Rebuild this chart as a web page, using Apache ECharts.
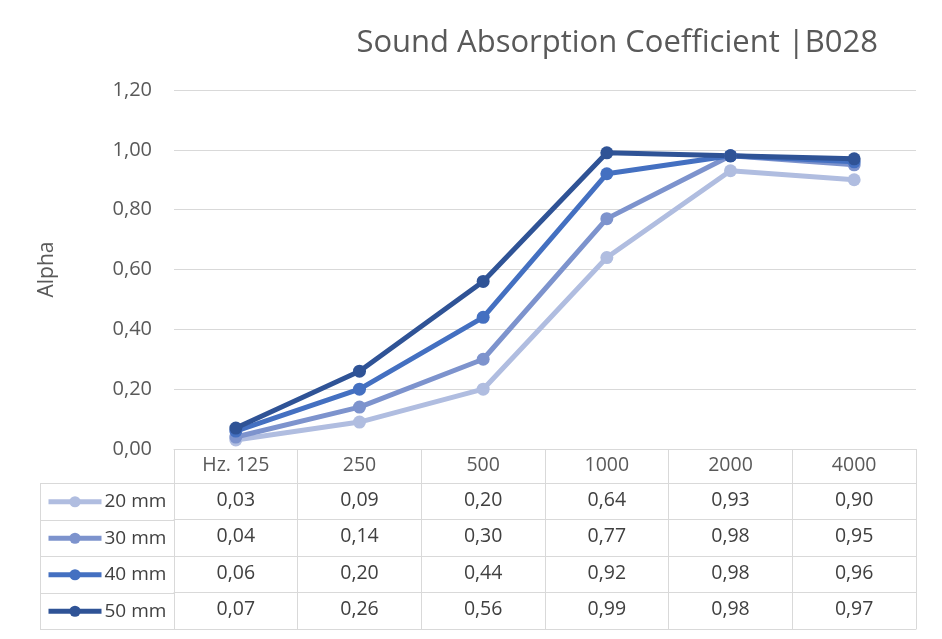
<!DOCTYPE html>
<html>
<head>
<meta charset="utf-8">
<script src="https://cdn.jsdelivr.net/npm/echarts@6/dist/echarts.min.js"></script>
<style>html,body{margin:0;padding:0;background:#fff;}#c{width:942px;height:639px;}</style>
</head>
<body>
<div id="c"></div>
<script>
var categories = ['Hz. 125', '250', '500', '1000', '2000', '4000'];
var seriesNames = ['20 mm', '30 mm', '40 mm', '50 mm'];
var s20 = [0.03, 0.09, 0.20, 0.64, 0.93, 0.90];
var s30 = [0.04, 0.14, 0.30, 0.77, 0.98, 0.95];
var s40 = [0.06, 0.20, 0.44, 0.92, 0.98, 0.96];
var s50 = [0.07, 0.26, 0.56, 0.99, 0.98, 0.97];
var yTicks = [0, 0.2, 0.4, 0.6, 0.8, 1.0, 1.2];

var values = [s20, s30, s40, s50];
var colors = ['#b0bde0', '#7d93cd', '#4470c1', '#2f5396'];
var fontFam = '"Open Sans", "Noto Sans", sans-serif';
var gridLeft = 174, gridRight = 916, gridTop = 90, gridBottom = 449;
var headerH = 34, rowH = 36.5, tableLeft = 40;
var lineCol = '#d9d9d9';
var tFont = 19.5;
function fmt(v) { return v.toFixed(2).replace('.', ','); }

var xAxes = [{
  type: 'category', data: categories, gridIndex: 0, position: 'bottom',
  boundaryGap: true,
  axisLine: { show: true, lineStyle: { color: lineCol, width: 1 } },
  axisTick: { show: true, length: headerH + rowH * 4, lineStyle: { color: lineCol, width: 1 } },
  axisLabel: { color: '#595959', fontSize: tFont, fontFamily: fontFam, margin: 6 },
  splitLine: { show: false }
}];
values.forEach(function (arr, k) {
  xAxes.push({
    type: 'category', data: categories, gridIndex: 0, position: 'bottom',
    offset: headerH + rowH * k,
    axisLine: { show: true, lineStyle: { color: lineCol, width: 1 } },
    axisTick: { show: false },
    axisLabel: {
      color: '#404040', fontSize: tFont, fontFamily: fontFam, margin: 7,
      formatter: function (val, idx) { return fmt(arr[idx]); }
    }
  });
});
xAxes.push({
  type: 'category', data: categories, gridIndex: 0, position: 'bottom',
  offset: headerH + rowH * 4,
  axisLine: { show: true, lineStyle: { color: lineCol, width: 1 } },
  axisTick: { show: false }, axisLabel: { show: false }
});

var series = values.map(function (arr, k) {
  return {
    name: seriesNames[k], type: 'line', data: arr, xAxisIndex: 0,
    symbol: 'circle', symbolSize: 13,
    lineStyle: { width: 5, color: colors[k] },
    itemStyle: { color: colors[k] },
    emphasis: { disabled: true }
  };
});

var legends = seriesNames.map(function (nm, k) {
  return {
    data: [nm], orient: 'horizontal', left: 46, padding: 0,
    top: gridBottom + headerH + rowH * k + (rowH - 14) / 2 - 2,
    itemWidth: 53, itemHeight: 14, itemGap: 0,
    lineStyle: { width: 5 },
    textStyle: { color: '#404040', fontSize: 19, fontFamily: fontFam, lineHeight: 14, padding: [0, 0, 0, -2] },
    selectedMode: false
  };
});

var graphics = [];
var tableBottom = gridBottom + headerH + rowH * 4;
for (var r = 0; r <= 4; r++) {
  var yy = Math.round(gridBottom + headerH + rowH * r) + 0.5;
  graphics.push({ type: 'line', shape: { x1: tableLeft, y1: yy, x2: gridLeft, y2: yy }, style: { stroke: lineCol, lineWidth: 1 } });
}
graphics.push({ type: 'line', shape: { x1: tableLeft + 0.5, y1: gridBottom + headerH, x2: tableLeft + 0.5, y2: tableBottom }, style: { stroke: lineCol, lineWidth: 1 } });

var option = {
  animation: false,
  backgroundColor: '#ffffff',
  title: {
    text: 'Sound Absorption Coefficient |B028', right: 59, top: 23,
    textStyle: { color: '#595959', fontSize: 31, fontWeight: 'normal', fontFamily: fontFam }
  },
  legend: legends,
  grid: { left: gridLeft, right: 942 - gridRight, top: gridTop, bottom: 639 - gridBottom, containLabel: false },
  xAxis: xAxes,
  yAxis: {
    type: 'value', min: 0, max: 1.2, interval: 0.2,
    name: 'Alpha', nameLocation: 'middle', nameGap: 116, nameRotate: 90,
    nameTextStyle: { color: '#595959', fontSize: 21, fontFamily: fontFam },
    axisLine: { show: false }, axisTick: { show: false },
    axisLabel: { color: '#595959', fontSize: 20, fontFamily: fontFam, margin: 22, formatter: function (v) { return fmt(v); } },
    splitLine: { show: true, lineStyle: { color: lineCol, width: 1 } }
  },
  series: series,
  graphic: graphics
};
var chart = echarts.init(document.getElementById('c'), null, { renderer: 'canvas' });
chart.setOption(option);
</script>
</body>
</html>
